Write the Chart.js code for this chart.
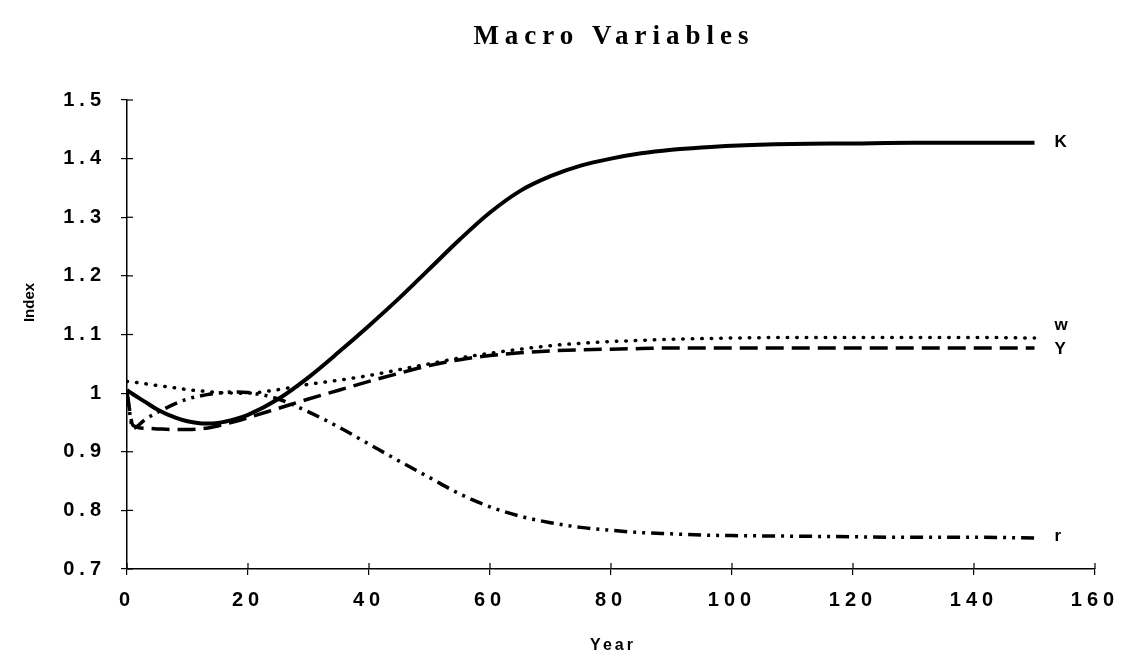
<!DOCTYPE html>
<html>
<head>
<meta charset="utf-8">
<script src="https://cdn.jsdelivr.net/npm/chart.js@4.4.1/dist/chart.umd.min.js"></script>
<style>
  html, body { margin: 0; padding: 0; background: #fff; }
  #wrap { width: 1128px; height: 663px; }
</style>
</head>
<body>
<div id="wrap"><canvas id="macroChart"></canvas></div>
<script>
const years = [0, 1, 3, 5, 8, 10, 13, 15, 18, 20, 25, 30, 35, 40, 45, 50, 55, 60, 65, 70, 75, 80, 85, 90, 95, 100, 110, 120, 130, 140, 150];

const capitalK = [1.005, 0.998, 0.985, 0.972, 0.958, 0.952, 0.948, 0.949, 0.956, 0.963, 0.990, 1.027, 1.070, 1.115, 1.162, 1.212, 1.262, 1.308, 1.345, 1.370, 1.388, 1.400, 1.409, 1.415, 1.419, 1.422, 1.425, 1.426, 1.427, 1.427, 1.427];
const wageW = [1.020, 1.019, 1.016, 1.013, 1.009, 1.006, 1.003, 1.001, 1.000, 1.000, 1.006, 1.015, 1.022, 1.030, 1.040, 1.050, 1.060, 1.068, 1.075, 1.081, 1.085, 1.088, 1.090, 1.092, 1.093, 1.094, 1.095, 1.095, 1.095, 1.095, 1.094];
const outputY = [1.000, 0.945, 0.940, 0.939, 0.938, 0.938, 0.940, 0.944, 0.952, 0.958, 0.974, 0.990, 1.005, 1.020, 1.034, 1.047, 1.057, 1.064, 1.069, 1.072, 1.074, 1.075, 1.076, 1.077, 1.077, 1.077, 1.077, 1.077, 1.077, 1.077, 1.077];
const rateR = [1.000, 0.940, 0.955, 0.967, 0.982, 0.990, 0.997, 1.000, 1.002, 1.001, 0.990, 0.968, 0.942, 0.913, 0.884, 0.856, 0.828, 0.806, 0.790, 0.779, 0.771, 0.766, 0.762, 0.760, 0.758, 0.757, 0.756, 0.755, 0.754, 0.754, 0.753];

const seriesNames = ['K', 'w', 'Y', 'r'];
const xTicks = [0, 20, 40, 60, 80, 100, 120, 140, 160];
const yTicks = [0.7, 0.8, 0.9, 1, 1.1, 1.2, 1.3, 1.4, 1.5];

const toPoints = vals => years.map((yr, i) => ({ x: yr, y: vals[i] }));

// title, axis titles, line labels and the inner half of the ticks
const decorations = {
    id: 'decorations',
    afterDraw(chart) {
        const ctx = chart.ctx;
        const area = chart.chartArea;
        const nudge = { K: 0, w: -13, Y: 1, r: -2 };
        ctx.save();
        ctx.fillStyle = '#000';
        ctx.textBaseline = 'middle';

        ctx.letterSpacing = '0px';
        ctx.font = 'bold 17px "Liberation Sans", Arial, sans-serif';
        chart.data.datasets.forEach((ds, i) => {
            const pts = chart.getDatasetMeta(i).data;
            const last = pts[pts.length - 1];
            ctx.fillText(ds.label, last.x + 20, last.y + nudge[ds.label]);
        });

        ctx.font = 'bold 27px "Liberation Serif", "Times New Roman", serif';
        ctx.letterSpacing = '6px';
        ctx.textAlign = 'center';
        ctx.fillText('Macro Variables', (area.left + area.right) / 2 + 3, 37);

        ctx.font = 'bold 16px "Liberation Sans", Arial, sans-serif';
        ctx.letterSpacing = '3px';
        ctx.fillText('Year', (area.left + area.right) / 2 + 2, 646);

        ctx.letterSpacing = '0px';
        ctx.font = 'bold 15px "Liberation Sans", Arial, sans-serif';
        ctx.translate(30, (area.top + area.bottom) / 2 - 32);
        ctx.rotate(-Math.PI / 2);
        ctx.fillText('Index', 0, 0);
        ctx.setTransform(1, 0, 0, 1, 0, 0);

        ctx.strokeStyle = '#000';
        ctx.lineWidth = 1.2;
        const xs = chart.scales.x, ys = chart.scales.y;
        ys.ticks.forEach(t => {
            const py = ys.getPixelForValue(t.value);
            ctx.beginPath();
            ctx.moveTo(xs.left, py);
            ctx.lineTo(xs.left + 6, py);
            ctx.stroke();
        });
        xs.ticks.forEach(t => {
            const px = xs.getPixelForValue(t.value);
            ctx.beginPath();
            ctx.moveTo(px, ys.bottom);
            ctx.lineTo(px, ys.bottom - 6);
            ctx.stroke();
        });
        ctx.restore();
    }
};

const spacing = {
    id: 'spacing',
    beforeDraw(chart) {
        chart.ctx.letterSpacing = '5px';
    }
};

document.addEventListener('DOMContentLoaded', () => {
    const ctx = document.getElementById('macroChart').getContext('2d');
    const tickFont = { family: '"Liberation Sans", Arial, sans-serif', size: 20, weight: 'bold' };

    new Chart(ctx, {
        type: 'line',
        data: {
            datasets: [
                {
                    label: seriesNames[0],
                    data: toPoints(capitalK),
                    borderColor: '#000',
                    borderWidth: 4
                },
                {
                    label: seriesNames[1],
                    data: toPoints(wageW),
                    borderColor: '#000',
                    borderWidth: 3.5,
                    borderDash: [0.5, 9],
                    borderCapStyle: 'round'
                },
                {
                    label: seriesNames[2],
                    data: toPoints(outputY),
                    borderColor: '#000',
                    borderWidth: 3.5,
                    borderDash: [18, 8]
                },
                {
                    label: seriesNames[3],
                    data: toPoints(rateR),
                    borderColor: '#000',
                    borderWidth: 3.5,
                    borderDash: [13, 6, 3, 6, 3, 6]
                }
            ]
        },
        options: {
            responsive: true,
            maintainAspectRatio: false,
            animation: false,
            layout: { padding: { top: 100, right: 33, left: 0, bottom: 0 } },
            elements: {
                point: { radius: 0 },
                line: { cubicInterpolationMode: 'monotone', fill: false }
            },
            plugins: {
                legend: { display: false },
                tooltip: { enabled: false },
                title: { display: false }
            },
            scales: {
                x: {
                    type: 'linear',
                    min: 0,
                    max: 160,
                    afterFit(scale) { scale.height = 94; },
                    afterBuildTicks(scale) { scale.ticks = xTicks.map(v => ({ value: v })); },
                    grid: { drawOnChartArea: false, color: '#000', tickLength: 6, lineWidth: 1.2 },
                    border: { color: '#000', width: 1.5 },
                    ticks: { color: '#000', font: tickFont, padding: 13, autoSkip: false, maxRotation: 0 }
                },
                y: {
                    min: 0.7,
                    max: 1.5,
                    afterFit(scale) { scale.width = 127; },
                    afterBuildTicks(scale) { scale.ticks = yTicks.map(v => ({ value: v })); },
                    grid: { drawOnChartArea: false, color: '#000', tickLength: 6, lineWidth: 1.2 },
                    border: { color: '#000', width: 1.5 },
                    ticks: {
                        color: '#000',
                        font: tickFont,
                        padding: 15,
                        callback: v => String(v)
                    }
                }
            }
        },
        plugins: [spacing, decorations]
    });
});
</script>
</body>
</html>
